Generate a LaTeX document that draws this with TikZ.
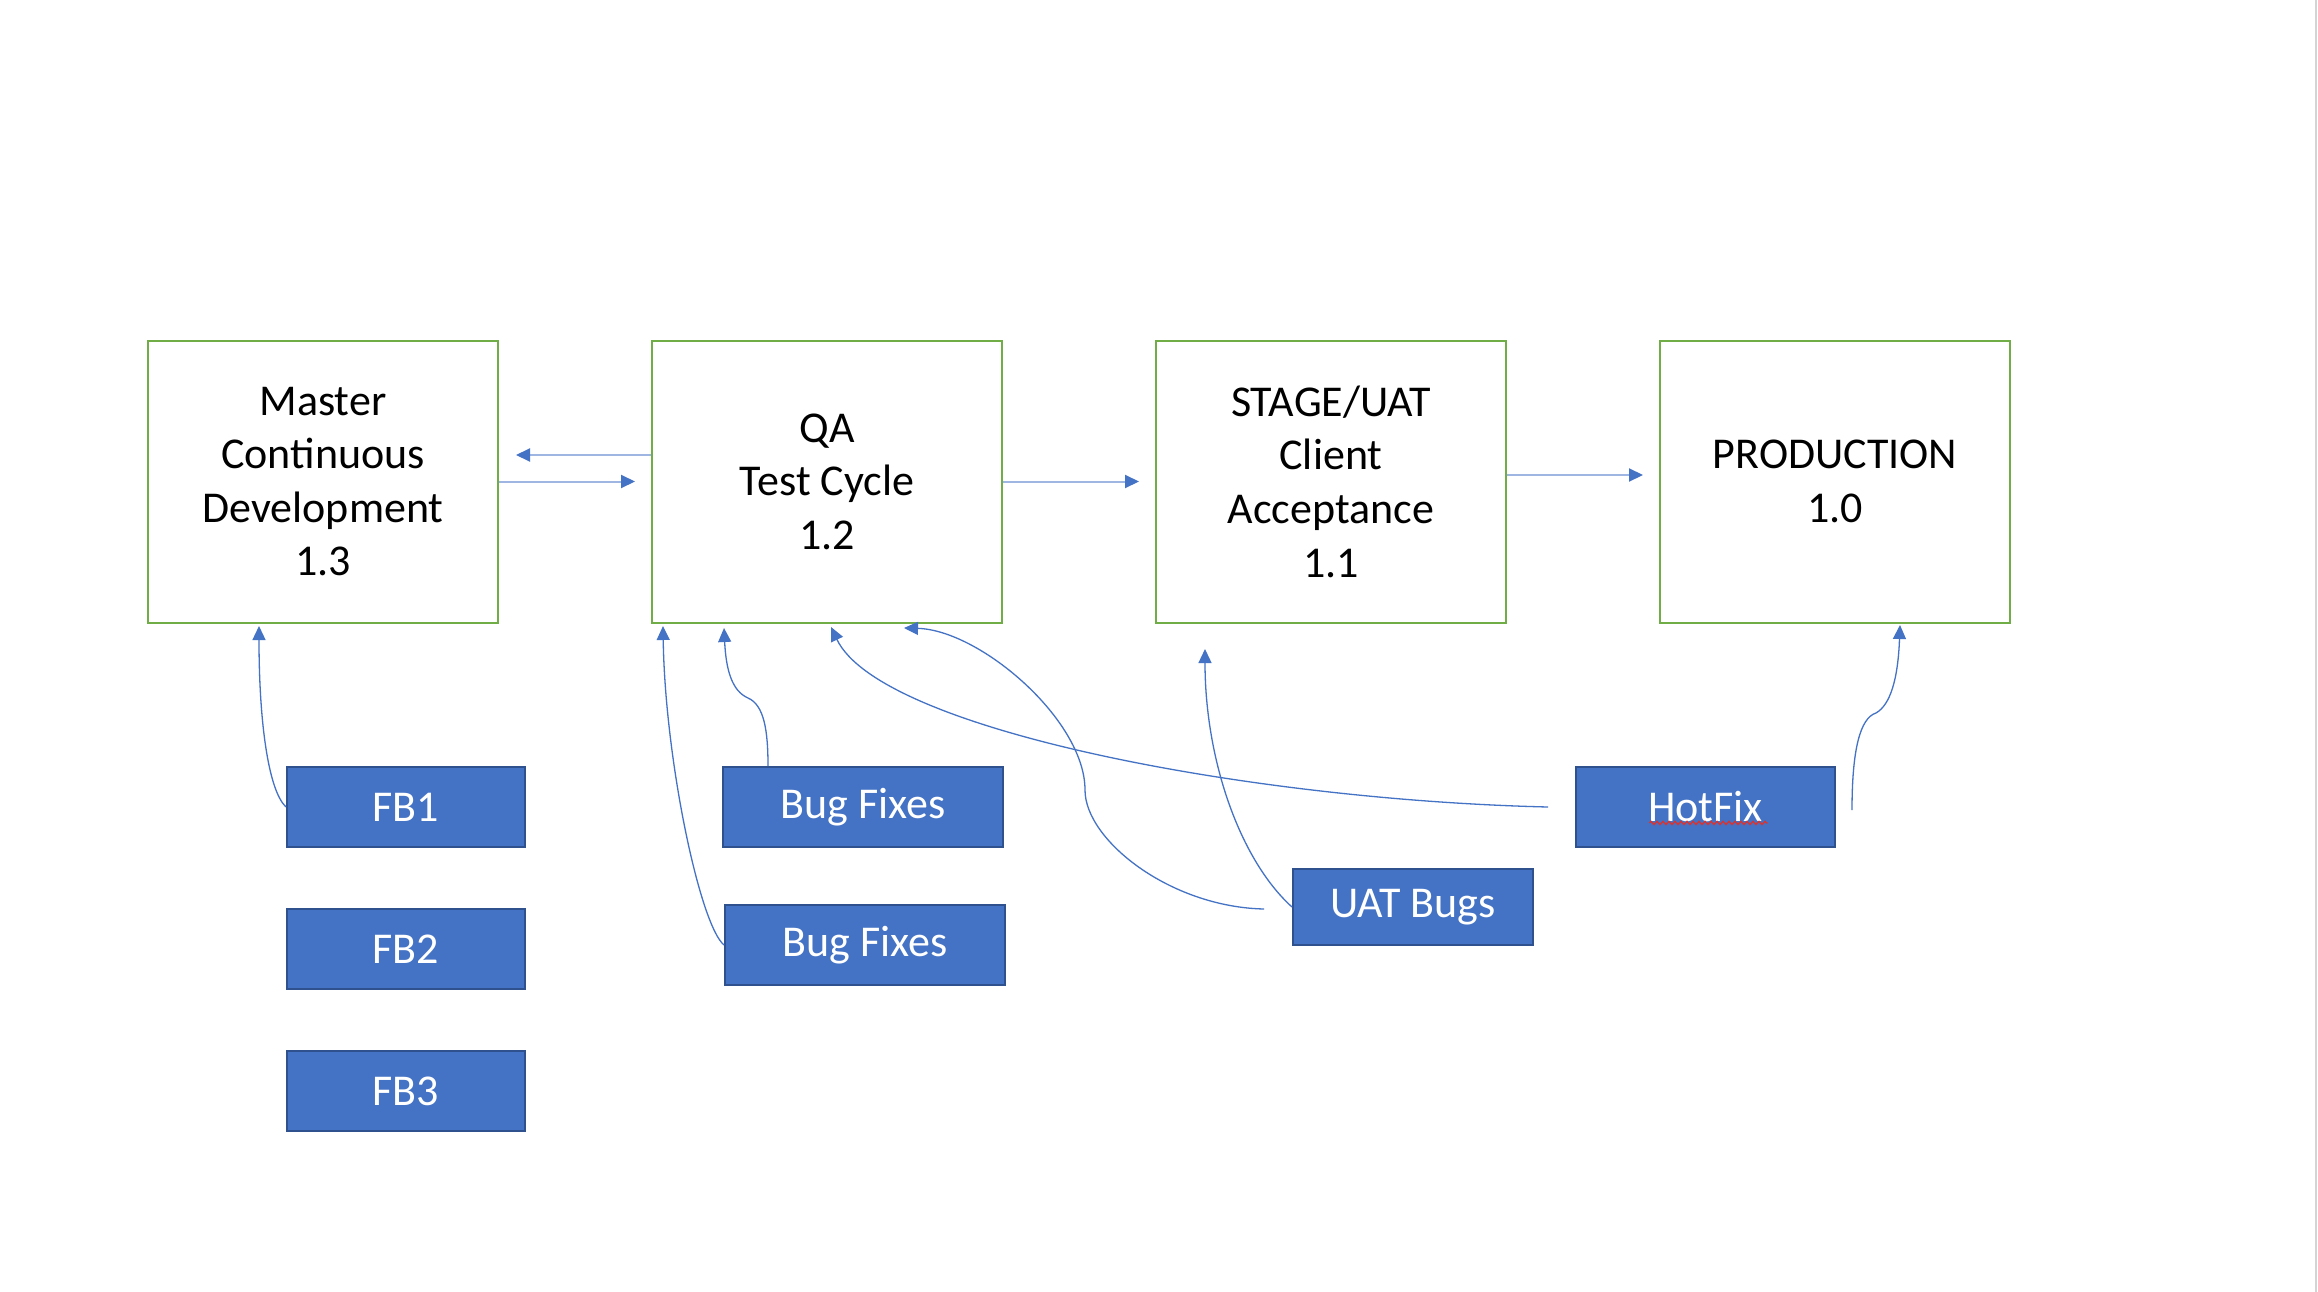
\documentclass[tikz,border=0pt]{standalone}
\usepackage{fontspec}
\setmainfont{Carlito}
\usetikzlibrary{arrows.meta,decorations.pathmorphing}
\definecolor{grn}{HTML}{70AD47}
\definecolor{blu}{HTML}{4472C4}
\definecolor{bludark}{HTML}{2F528F}
\definecolor{bluline}{HTML}{9FB6E2}
\definecolor{edgegray}{HTML}{D4D4D4}
\definecolor{spellred}{HTML}{E0302A}
\tikzset{
  stagebox/.style={draw=grn, line width=2pt, fill=white, minimum width=350pt, minimum height=282pt,
    align=center, inner sep=0pt, font=\fontsize{44}{53.6}\selectfont},
  fbbox/.style={draw=bludark, fill=blu, line width=2pt, text=white, minimum height=80pt,
    inner sep=0pt, font=\fontsize{44}{53.6}\selectfont},
  flow/.style={draw=bluline, line width=2pt, -{Triangle[length=14pt,width=13pt,color=blu]}},
  link/.style={draw=blu, line width=1.3pt, -{Triangle[length=14pt,width=13pt,color=blu]}},
  squiggle/.style={draw=spellred, line width=1.3pt, decorate,
    decoration={zigzag, segment length=6pt, amplitude=1.6pt}},
}
\begin{document}
\begin{tikzpicture}[x=1pt,y=-1pt]
\useasboundingbox (0,0) rectangle (2318,1292);
\fill[white] (0,0) rectangle (2318,1292);
\draw[edgegray, line width=2pt] (2316,0) -- (2316,1292);

% main stages
\node[stagebox] (master) at (323,481.5) {Master\\Continuous\\Development\\1.3};
\node[stagebox] (qa)     at (827,481.5) {QA\\Test Cycle\\1.2};
\node[stagebox] (stage)  at (1331,481.5) {STAGE/UAT\\Client\\Acceptance\\1.1};
\node[stagebox] (prod)   at (1835,481.5) {PRODUCTION\\1.0};

% branch boxes
\node[fbbox, minimum width=238pt] (fb1) at (406,807) {FB1};
\node[fbbox, minimum width=238pt] (fb2) at (406,949) {FB2};
\node[fbbox, minimum width=238pt] (fb3) at (406,1091) {FB3};
\node[fbbox, minimum width=280pt] (bf1) at (863,807) {Bug Fixes};
\node[fbbox, minimum width=280pt] (bf2) at (865,945) {Bug Fixes};
\node[fbbox, minimum width=259pt] (hot) at (1705.5,807) {HotFix};
\node[fbbox, minimum width=240pt, minimum height=76pt] (uat) at (1413,907) {UAT Bugs};
\draw[squiggle] ([xshift=-56pt,yshift=-16pt]hot.center) -- ([xshift=62pt,yshift=-16pt]hot.center);

% straight flow arrows
\draw[flow] ([yshift=26.5pt]qa.west) -- ([xshift=17pt,yshift=26.5pt]master.east);
\draw[flow] (master.east) -- ([xshift=-16pt]qa.west);
\draw[flow] (qa.east) -- ([xshift=-16pt]stage.west);
\draw[flow] ([yshift=6.5pt]stage.east) -- ([xshift=-16pt,yshift=6.5pt]prod.west);

% curved connectors
\draw[link] (fb1.west) .. controls (268,790) and (259,720) .. ([xshift=-64pt,yshift=-2.5pt]master.south);
\draw[link] (bf2.west) .. controls (700,925) and (665,760) .. ([xshift=-164pt,yshift=-2.5pt]qa.south);
\draw[link] ([xshift=-95pt]bf1.north) .. controls (768,730) and (764,705) .. (748,698)
  .. controls (732,691) and (726,670) .. ([xshift=-103pt,yshift=-4.5pt]qa.south);
\draw[link] ([xshift=-27pt]hot.west) .. controls (1250,800) and (880,730) .. ([xshift=4pt,yshift=-3.5pt]qa.south);
\draw[link] ([xshift=-28pt,yshift=-2pt]uat.west) .. controls (1170,907) and (1085,840) .. (1085,790)
  .. controls (1085,720) and (980,630) .. ([xshift=77pt,yshift=-4.5pt]qa.south);
\draw[link] (uat.west) .. controls (1240,860) and (1205,760) .. ([xshift=-126pt,yshift=-25.5pt]stage.south);
\draw[link] ([xshift=16pt,yshift=-3pt]hot.east) .. controls (1852,750) and (1860,718) .. (1876,713)
  .. controls (1890,705) and (1898,680) .. ([xshift=65pt,yshift=-1.5pt]prod.south);
\end{tikzpicture}
\end{document}
